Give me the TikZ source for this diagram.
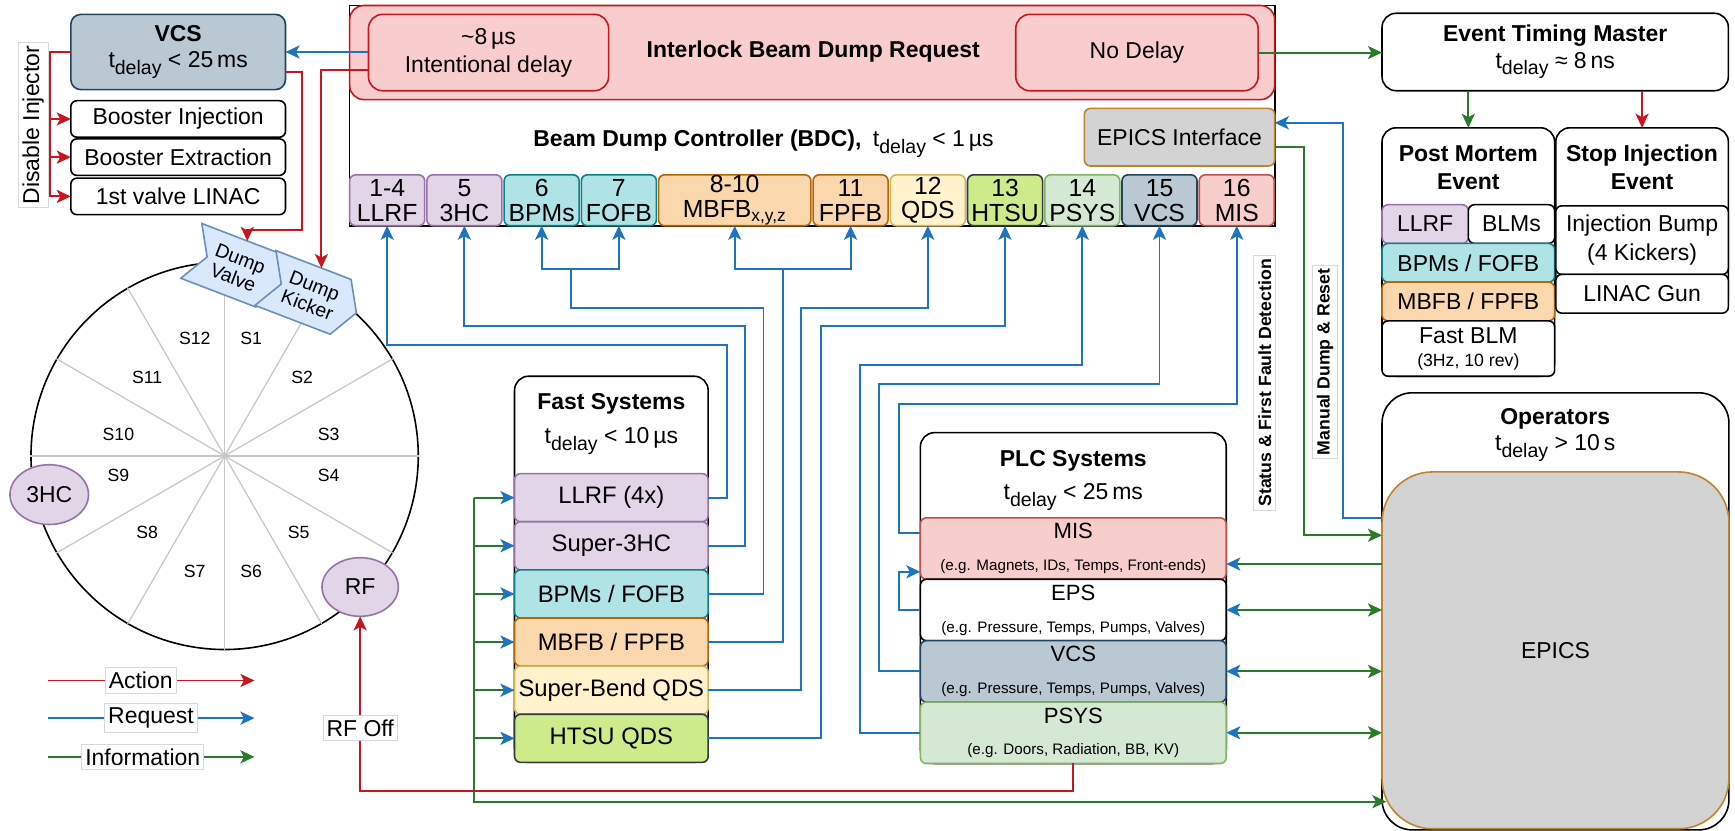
\documentclass[tikz,border=0pt]{standalone}
\usepackage{fontspec}
\setmainfont{Liberation Sans}
\usepackage{graphicx}
\usetikzlibrary{arrows.meta,positioning,shapes.geometric,shapes.symbols,calc}
\definecolor{reqblue}{HTML}{1F74BF}
\definecolor{actred}{HTML}{C8151E}
\definecolor{infogreen}{HTML}{2B7A2B}
\definecolor{purfill}{HTML}{E1D5E7}\definecolor{purline}{HTML}{9673A6}
\definecolor{tealfill}{HTML}{B0E3E6}\definecolor{tealline}{HTML}{0E8088}
\definecolor{orfill}{HTML}{FAD7AC}\definecolor{orline}{HTML}{B46504}
\definecolor{yelfill}{HTML}{FFF2CC}\definecolor{yelline}{HTML}{D6B656}
\definecolor{limefill}{HTML}{CDEB8B}\definecolor{limeline}{HTML}{36393D}
\definecolor{grfill}{HTML}{D5E8D4}\definecolor{grline}{HTML}{82B366}
\definecolor{slfill}{HTML}{BAC8D3}\definecolor{slline}{HTML}{23445D}
\definecolor{pkfill}{HTML}{F8CECC}\definecolor{pkline}{HTML}{B85450}
\definecolor{ilfill}{HTML}{F9CDCD}\definecolor{illine}{HTML}{C8151E}
\definecolor{dumpfill}{HTML}{DAE8FC}\definecolor{dumpline}{HTML}{6C8EBF}
\definecolor{epfill}{HTML}{D3D3D3}\definecolor{epline}{HTML}{C0832E}
\newcommand{\pxu}{0.22mm}
\newcommand{\tdelay}{t\raisebox{-.55ex}{\scalebox{.85}{delay}}}
\newcommand{\plcnote}[1]{{\fontsize{8.6}{10}\selectfont #1}}
\tikzset{txt/.style={inner sep=0pt,align=center,font=\fontsize{13}{15}\selectfont},
box/.style={txt,draw,fill=white,line width=0.9pt,outer sep=0pt,rounded corners=1.2mm},
frame/.style={box,rounded corners=2.8mm},
chan/.style={box,minimum width=67.8*\pxu,minimum height=46*\pxu,font=\fontsize{14}{14}\selectfont},
fastsub/.style={box,minimum width=175*\pxu,minimum height=43.5*\pxu,font=\fontsize{13.5}{15}\selectfont},
plcsub/.style={box,minimum width=276.4*\pxu,minimum height=55.5*\pxu,font=\fontsize{12.5}{14}\selectfont},
lab/.style={txt,fill=white,draw=black!15,line width=0.4pt,inner xsep=2pt,inner ysep=2.5pt},
vlab/.style={lab,rotate=90,font=\fontsize{10}{12}\selectfont\bfseries},
sect/.style={txt,font=\fontsize{10}{12}\selectfont},
ell/.style={box,ellipse},
dump/.style={signal,signal from=west,signal to=east,signal pointer angle=120,draw=dumpline,fill=dumpfill,line width=0.9pt,inner sep=0pt,outer sep=0pt,align=center,minimum width=88*\pxu,minimum height=53*\pxu,font=\fontsize{11}{11.5}\selectfont},
spoke/.style={draw=black!22,line width=0.7pt},
cpurple/.style={fill=purfill,draw=purline},cteal/.style={fill=tealfill,draw=tealline},
corange/.style={fill=orfill,draw=orline},cyellow/.style={fill=yelfill,draw=yelline},
clime/.style={fill=limefill,draw=limeline},cgreen/.style={fill=grfill,draw=grline},
cslate/.style={fill=slfill,draw=slline},cpink/.style={fill=pkfill,draw=pkline},
cilk/.style={fill=ilfill,draw=illine},cepics/.style={fill=epfill,draw=epline},
arr/.style={line width=1.1pt,-{Stealth[length=2.8mm,width=2.6mm,inset=0.7mm]}},
req/.style={arr,draw=reqblue},act/.style={arr,draw=actred},info/.style={arr,draw=infogreen},
infoin/.style={info,-{Stealth[length=2.8mm,width=2.6mm,inset=0.7mm,color=reqblue]}},
infoboth/.style={info,{Stealth[length=2.8mm,width=2.6mm,inset=0.7mm,color=reqblue]}-{Stealth[length=2.8mm,width=2.6mm,inset=0.7mm]}}}

\begin{document}
\begin{tikzpicture}[x=0.22mm,y=-0.22mm]
\useasboundingbox (0,0) rectangle (1568,751);
% storage ring
\node[draw,circle,line width=0.9pt,minimum size=350*\pxu,inner sep=0pt] (ring) at (203,412) {};
\draw[spoke] (ring.90) -- (ring.270);
\draw[spoke] (ring.60) -- (ring.240);
\draw[spoke] (ring.30) -- (ring.210);
\draw[spoke] (ring.0) -- (ring.180);
\draw[spoke] (ring.-30) -- (ring.150);
\draw[spoke] (ring.-60) -- (ring.120);
\node[sect] (s1) at (227,306) {S1};
\node[sect] (s2) at (273,341) {S2};
\node[sect] (s3) at (297,393) {S3};
\node[sect] (s4) at (297,430) {S4};
\node[sect] (s5) at (270,481) {S5};
\node[sect] (s6) at (227,516) {S6};
\node[sect] (s7) at (176,516) {S7};
\node[sect] (s8) at (133,481) {S8};
\node[sect] (s9) at (107,430) {S9};
\node[sect] (s10) at (107,393) {S10};
\node[sect] (s11) at (133,341) {S11};
\node[sect] (s12) at (176,306) {S12};
\node[ell,cpurple,minimum width=71*\pxu,minimum height=54*\pxu] (hc) at (44.5,447) {3HC};
\node[ell,cpurple,minimum width=69*\pxu,minimum height=53*\pxu] (rf) at (325.5,530.5) {RF};
\node[dump,rotate=-21] (dvalve) at (214,242.5) {Dump\\Valve};
\node[dump,rotate=-21] (dkick) at (281,267) {Dump\\Kicker};

% VCS and injector
\node[box,cslate,rounded corners=2mm,minimum width=194*\pxu,minimum height=68*\pxu] (vcs) at (161,47) {\textbf{VCS}\\\tdelay{} < 25\,ms};
\node[box,minimum width=194*\pxu,minimum height=33*\pxu] (binj) at (161,107.5) {Booster Injection};
\node[box,minimum width=194*\pxu,minimum height=33*\pxu] (bext) at (161,142) {Booster Extraction};
\node[box,minimum width=194*\pxu,minimum height=33*\pxu] (lvalve) at (161,177.5) {1st valve LINAC};
\node[lab,rotate=90] (disinj) at (30,113) {Disable Injector};

% beam dump controller
\node[box,sharp corners,minimum width=836*\pxu,minimum height=199*\pxu] (bdc) at (734,104.5) {};
\node[frame,cilk,minimum width=836*\pxu,minimum height=85*\pxu] (ilk) at (734,47.5) {};
\node[txt] (ilktxt) at (735,47) {\textbf{Interlock Beam Dump Request}};
\node[frame,cilk,minimum width=217*\pxu,minimum height=69*\pxu] (delay) at (441.5,47.5) {\textasciitilde 8\,µs\\[1pt]Intentional delay};
\node[frame,cilk,minimum width=219*\pxu,minimum height=69*\pxu] (nodelay) at (1027.5,47.5) {No Delay};
\node[txt] (bdctxt) at (690,130) {\textbf{Beam Dump Controller (BDC),}\enspace\tdelay{} < 1\,µs};
\node[box,cepics,minimum width=172*\pxu,minimum height=52*\pxu] (epicsif) at (1066,124) {EPICS Interface};
\node[chan,cpurple] (ch1) at (349.9,181) {1-4\\LLRF};
\node[chan,cpurple,right=2*\pxu of ch1] (ch2) {5\\3HC};
\node[chan,cteal,right=2*\pxu of ch2] (ch3) {6\\BPMs};
\node[chan,cteal,right=2*\pxu of ch3] (ch4) {7\\FOFB};
\node[chan,corange,minimum width=137.6*\pxu,right=2*\pxu of ch4] (ch5) {8-10\\MBFB\textsubscript{x,y,z}};
\node[chan,corange,right=2*\pxu of ch5] (ch6) {11\\FPFB};
\node[chan,cyellow,right=2*\pxu of ch6] (ch7) {12\\QDS};
\node[chan,clime,right=2*\pxu of ch7] (ch8) {13\\HTSU};
\node[chan,cgreen,right=2*\pxu of ch8] (ch9) {14\\PSYS};
\node[chan,cslate,right=2*\pxu of ch9] (ch10) {15\\VCS};
\node[chan,cpink,right=2*\pxu of ch10] (ch11) {16\\MIS};

% fast systems
\node[frame,minimum width=175*\pxu,minimum height=349*\pxu] (fast) at (552.5,514.5) {};
\node[txt] (fasttitle) at (552.5,383) {\textbf{Fast Systems}\\[4.6pt]\tdelay{} < 10\,µs};
\node[fastsub,cpurple,anchor=north] (fllrf) at (552.5,428) {LLRF (4x)};
\node[fastsub,cpurple,below=0pt of fllrf] (f3hc) {Super-3HC};
\node[fastsub,cteal,below=0pt of f3hc] (fbpm) {BPMs / FOFB};
\node[fastsub,corange,below=0pt of fbpm] (fmbfb) {MBFB / FPFB};
\node[fastsub,cyellow,below=0pt of fmbfb] (fqds) {Super-Bend QDS};
\node[fastsub,clime,below=0pt of fqds] (fhtsu) {HTSU QDS};

% PLC systems
\node[frame,minimum width=276.4*\pxu,minimum height=299*\pxu] (plc) at (970,540.5) {};
\node[txt] (plctitle) at (970,434) {\textbf{PLC Systems}\\[3.7pt]\tdelay{} < 25\,ms};
\node[plcsub,cpink,anchor=north] (pmis) at (970,468) {MIS\\[4pt]\plcnote{(e.g. Magnets, IDs, Temps, Front-ends)}};
\node[plcsub,below=0pt of pmis] (peps) {EPS\\[4pt]\plcnote{(e.g. Pressure, Temps, Pumps, Valves)}};
\node[plcsub,cslate,below=0pt of peps] (pvcs) {VCS\\[4pt]\plcnote{(e.g. Pressure, Temps, Pumps, Valves)}};
\node[plcsub,cgreen,below=0pt of pvcs] (ppsys) {PSYS\\[4pt]\plcnote{(e.g. Doors, Radiation, BB, KV)}};

% timing system
\node[frame,minimum width=313*\pxu,minimum height=70*\pxu] (etm) at (1405.5,47) {\textbf{Event Timing Master}\\\tdelay{} ≈ 8\,ns};
\node[frame,minimum width=156*\pxu,minimum height=224.5*\pxu] (pmcol) at (1327,227.75) {};
\node[txt] (pmtitle) at (1327,151.5) {\textbf{Post Mortem}\\[1pt]\textbf{Event}};
\node[box,cpurple,anchor=north west,minimum width=78*\pxu,minimum height=35*\pxu] (pmllrf) at (1249,185) {LLRF};
\node[box,right=0pt of pmllrf,minimum width=78*\pxu,minimum height=35*\pxu] (pmblm) {BLMs};
\node[box,cteal,anchor=north west,minimum width=156*\pxu,minimum height=35*\pxu] (pmbpm) at (pmllrf.south west) {BPMs / FOFB};
\node[box,corange,below=0pt of pmbpm,minimum width=156*\pxu,minimum height=35*\pxu] (pmmbfb) {MBFB / FPFB};
\node[box,below=0pt of pmmbfb,minimum width=156*\pxu,minimum height=50*\pxu] (pmfblm) {Fast BLM\\[-2pt]{\fontsize{10}{11}\selectfont(3Hz, 10 rev)}};
\node[frame,minimum width=156*\pxu,minimum height=167.5*\pxu] (sicol) at (1484,199.25) {};
\node[txt] (sititle) at (1484,151.5) {\textbf{Stop Injection}\\[1pt]\textbf{Event}};
\node[box,anchor=north,minimum width=156*\pxu,minimum height=62*\pxu] (sibump) at (1484,186) {Injection Bump\\[1.5pt](4 Kickers)};
\node[box,below=0pt of sibump,minimum width=156*\pxu,minimum height=35*\pxu] (sigun) {LINAC Gun};

% operators
\node[box,rounded corners=6mm,minimum width=313.5*\pxu,minimum height=395*\pxu] (ops) at (1405.75,552.5) {};
\node[txt] (opstitle) at (1405.5,393) {\textbf{Operators}\\\tdelay{} > 10\,s};
\node[box,cepics,rounded corners=10mm,minimum width=313.5*\pxu,minimum height=322.5*\pxu] (epics) at (1405.75,587.75) {EPICS};
\node[vlab] (statlab) at (1143,346) {Status \& First Fault Detection};
\node[vlab] (manlab) at (1197.6,327) {Manual Dump \& Reset};

% interlock actions
\draw[req] (delay.west |- vcs.east) -- (vcs.east);
\draw[act] ($(delay.west)+(0,16)$) -| (dkick.north);
\draw[act] ($(vcs.east)+(0,18)$) -- ++(15,0) -- ++(0,143) -| (dvalve.north);
\draw[act] (vcs.west) -- ++(-19,0) |- (binj.west);
\draw[act] (vcs.west) -- ++(-19,0) |- (bext.west);
\draw[act] (vcs.west) -- ++(-19,0) |- (lvalve.west);
\draw[info] (nodelay.east) -- (nodelay.east -| etm.west);
\draw[info] (etm.south -| pmcol.north) -- (pmcol.north);
\draw[act] (etm.south -| sicol.north) -- (sicol.north);

% requests into the BDC
\draw[req] (fllrf.east) -| ++(17,-137.75) -| (ch1.south);
\draw[req] (f3hc.east) -| ++(33,-198.25) -| (ch2.south);
\draw[req] (fbpm.east) -| ++(50,-258.75) -| ++(-174,-35) coordinate (jbpm) -| (ch3.south);
\draw[req] (jbpm) -| (ch4.south);
\draw[req] (fmbfb.east) -| ++(68,-337.25) coordinate (jmbfb) -| (ch5.south);
\draw[req] (jmbfb) -| (ch6.south);
\draw[req] (fqds.east) -| ++(84,-345.75) -| (ch7.south);
\draw[req] (fhtsu.east) -| ++(102,-372.25) -| (ch8.south);
\draw[req] (ppsys.west) -| ++(-55,-332.25) -| (ch9.south);
\draw[req] (pvcs.west) -| ++(-37,-259.75) -| (ch10.south);
\draw[req] ($(pmis.west)+(0,-14)$) -| ++(-19,-117) -| (ch11.south);
\draw[req] (peps.west) -- ++(-19,0) |- ($(pmis.west)+(0,21)$);

% EPICS links
\coordinate (gbus) at ($(fllrf.west)+(-37,0)$);
\draw[infoin] (gbus) -- (fllrf.west);
\draw[infoin] (gbus |- f3hc.west) -- (f3hc.west);
\draw[infoin] (gbus |- fbpm.west) -- (fbpm.west);
\draw[infoin] (gbus |- fmbfb.west) -- (fmbfb.west);
\draw[infoin] (gbus |- fqds.west) -- (fqds.west);
\draw[infoin] (gbus |- fhtsu.west) -- (fhtsu.west);
\draw[info] (gbus) -- ++(0,274.75) coordinate (gbot) -- ($(gbot -| epics.west)+(4,0)$);
\coordinate (misin) at ($(pmis.east)+(0,14)$);
\draw[infoin] (epics.west |- misin) -- (misin);
\draw[infoboth] (peps.east) -- (epics.west |- peps.east);
\draw[infoboth] (pvcs.east) -- (epics.west |- pvcs.east);
\draw[infoboth] (ppsys.east) -- (epics.west |- ppsys.east);
\draw[info] ($(epicsif.east)+(0,9)$) -- ++(26.6,0) |- ($(epics.west)+(0,-104)$);
\draw[req] ($(epics.west)+(0,-120)$) -- ++(-35.5,0) |- ($(epicsif.east)+(0,-13)$);
\draw[act] (ppsys.south) -- ++(0,24.6) -| node[lab,pos=0.68] (rfoff) {RF Off} (rf.south);

% legend
\coordinate (lga) at (43,615); \coordinate (lgb) at (230,615);
\coordinate (lgc) at (43,649); \coordinate (lgd) at (230,649);
\coordinate (lge) at (43,684); \coordinate (lgf) at (230,684);
\draw[act] (lga) -- node[lab,pos=0.45] (lgact) {Action} (lgb);
\draw[req] (lgc) -- node[lab,pos=0.5] (lgreq) {Request} (lgd);
\draw[info] (lge) -- node[lab,pos=0.46] (lginf) {Information} (lgf);
\end{tikzpicture}
\end{document}
